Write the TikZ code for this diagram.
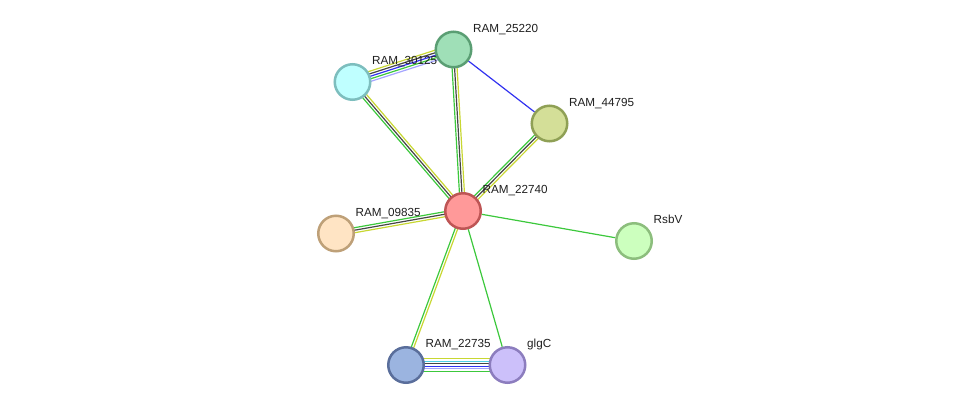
\documentclass[tikz,border=0pt]{standalone}
\usepackage{fontspec}
\setmainfont{Liberation Sans}
\usepackage{xcolor}
\usepackage{tikz}
\usetikzlibrary{calc,backgrounds}
% edge evidence colours
\definecolor{egreen}{RGB}{60,200,60}
\definecolor{eyellow}{RGB}{200,215,50}
\definecolor{egray}{RGB}{70,70,70}
\definecolor{eblue}{RGB}{50,50,240}
\definecolor{elav}{RGB}{165,165,255}
\definecolor{ecyan}{RGB}{80,210,230}
% protein fills and rims
\definecolor{f25220}{RGB}{159,223,183}\definecolor{d25220}{RGB}{90,158,115}
\definecolor{f30125}{RGB}{191,255,255}\definecolor{d30125}{RGB}{125,190,190}
\definecolor{f44795}{RGB}{212,223,152}\definecolor{d44795}{RGB}{143,160,85}
\definecolor{f22740}{RGB}{255,153,153}\definecolor{d22740}{RGB}{190,85,85}
\definecolor{f09835}{RGB}{255,228,196}\definecolor{d09835}{RGB}{190,160,120}
\definecolor{fRsbV}{RGB}{204,255,190}\definecolor{dRsbV}{RGB}{140,190,125}
\definecolor{f22735}{RGB}{155,180,224}\definecolor{d22735}{RGB}{90,110,155}
\definecolor{fglgC}{RGB}{204,192,250}\definecolor{dglgC}{RGB}{140,125,190}
\newcommand{\band}[3]{%
  \foreach \c/\o in {#3}
    \draw[edge,\c] ($(#1.center)!\o pt!90:(#2.center)$) -- ($(#2.center)!\o pt!-90:(#1.center)$);}

\begin{document}
\begin{tikzpicture}[x=1pt,y=-1pt,
  prot/.style={circle,draw,line width=2.5pt,minimum size=35.5pt,inner sep=0pt},
  lbl/.style={anchor=base west,inner sep=0pt,xshift=19.5pt,yshift=17.5pt,
    font=\fontsize{11.7}{14}\selectfont,text=black!88},
  edge/.style={line width=1.2pt}]
\useasboundingbox (0,0) rectangle (975,410);
\node[prot,fill=f25220,draw=d25220] (n25220) at (453.5,49.5) {};
\node[prot,fill=f30125,draw=d30125] (n30125) at (352.5,82) {};
\node[prot,fill=f44795,draw=d44795] (n44795) at (549.5,123.5) {};
\node[prot,fill=f22740,draw=d22740] (n22740) at (463,211) {};
\node[prot,fill=f09835,draw=d09835] (n09835) at (336,233.5) {};
\node[prot,fill=fRsbV,draw=dRsbV] (nRsbV) at (634,241) {};
\node[prot,fill=f22735,draw=d22735] (n22735) at (406,365) {};
\node[prot,fill=fglgC,draw=dglgC] (nglgC) at (507.5,365) {};
\begin{scope}[on background layer]
\band{n30125}{n25220}{eyellow/5,egray/2.5,eblue/0,egreen/-2.5,elav/-5}
\band{n25220}{n22740}{eyellow/2.5,egray/0,egreen/-2.5}
\band{n30125}{n22740}{eyellow/2.5,egray/0,egreen/-2.5}
\band{n44795}{n22740}{eyellow/2.5,egray/0,egreen/-2.5}
\band{n09835}{n22740}{egreen/2.5,egray/0,eyellow/-2.5}
\band{n22735}{n22740}{egreen/1.25,eyellow/-1.25}
\band{n22735}{nglgC}{eyellow/6.25,ecyan/3.75,egray/1.25,eblue/-1.25,elav/-3.75,egreen/-6.25}
\draw[edge,eblue] (n25220) -- (n44795);
\draw[edge,egreen] (n22740) -- (nRsbV);
\draw[edge,egreen] (n22740) -- (nglgC);
\end{scope}
\node[lbl] (l25220) at (n25220.center) {RAM\_25220};
\node[lbl] (l30125) at (n30125.center) {RAM\_30125};
\node[lbl] (l44795) at (n44795.center) {RAM\_44795};
\node[lbl] (l22740) at (n22740.center) {RAM\_22740};
\node[lbl] (l09835) at (n09835.center) {RAM\_09835};
\node[lbl] (lRsbV) at (nRsbV.center) {RsbV};
\node[lbl] (l22735) at (n22735.center) {RAM\_22735};
\node[lbl] (lglgC) at (nglgC.center) {glgC};
\end{tikzpicture}
\end{document}
